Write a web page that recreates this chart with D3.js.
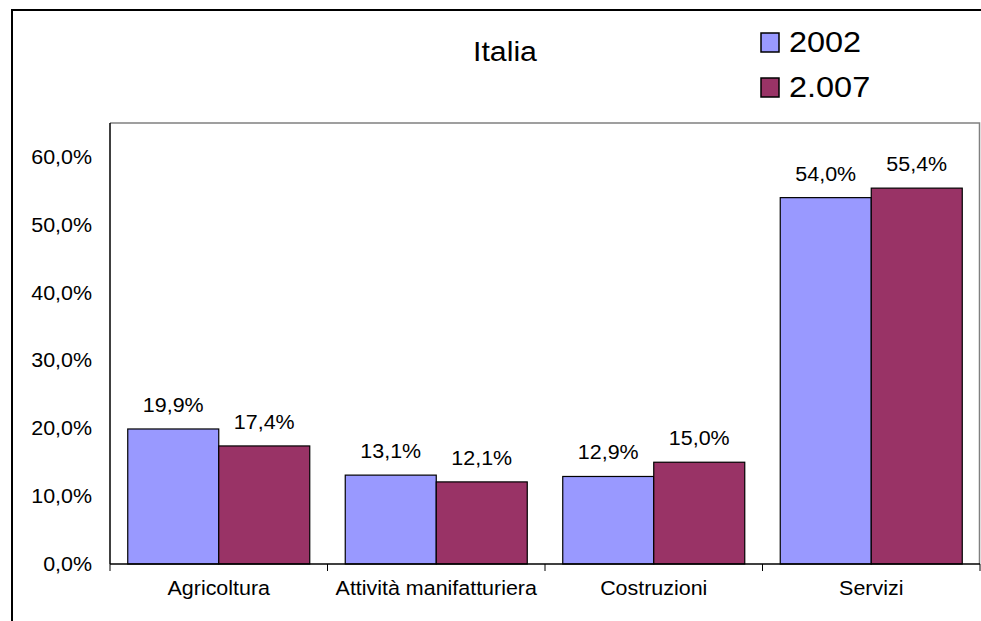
<!DOCTYPE html>
<html><head><meta charset="utf-8">
<script src="https://cdn.jsdelivr.net/npm/d3@7"></script>
<style>body{margin:0;background:#fff;} svg{display:block;} text{font-family:Arial,"Liberation Sans",sans-serif;fill:#000;}</style>
</head><body>
<svg id="c" width="981" height="621"></svg>
<script>
const categories = ["Agricoltura", "Attività manifatturiera", "Costruzioni", "Servizi"];
const seriesNames = ["2002", "2.007"];
const values2002 = [0.199, 0.131, 0.129, 0.540];
const values2007 = [0.174, 0.121, 0.150, 0.554];
const yTicks = [0, 0.1, 0.2, 0.3, 0.4, 0.5, 0.6];
const colors = ["#9999FF", "#993366"];
const title = "Italia";

const svg = d3.select("#c");
const SX = 1.1;
const it = d3.formatLocale({decimal: ",", thousands: ".", grouping: [3], currency: ["", "€"]});
const fmt = it.format(".1%");

const plot = {left: 110, right: 980, top: 123, bottom: 564};
const x0 = d3.scaleBand().domain(categories).range([plot.left, plot.right]).paddingInner(0).paddingOuter(0);
const x1 = d3.scaleBand().domain(seriesNames).range([0, x0.bandwidth()]).paddingInner(0).paddingOuter(0.195);
const y = d3.scaleLinear().domain([0, 0.65]).range([plot.bottom, plot.top]);

function txt(g, x, yy, s, size, anchor) {
  return g.append("text").attr("transform", `translate(${x},${yy}) scale(${SX},1)`)
    .attr("text-anchor", anchor).style("font-size", size + "px").text(s);
}

// outer border
svg.append("rect").attr("x", 12).attr("y", 10).attr("width", 1100).attr("height", 800)
  .attr("fill", "none").attr("stroke", "#000").attr("stroke-width", 2);

// plot area border (gray top/right)
svg.append("path").attr("d", `M${plot.left},${plot.top}H${plot.right - 0.5}V${plot.bottom}`)
  .attr("fill", "none").attr("stroke", "#808080").attr("stroke-width", 1.5);

// bars
const data = categories.map((c, i) => ({cat: c, vals: [values2002[i], values2007[i]]}));
const groups = svg.append("g").selectAll("g").data(data).join("g")
  .attr("transform", d => `translate(${x0(d.cat)},0)`);
groups.selectAll("rect").data(d => d.vals.map((v, j) => ({s: seriesNames[j], v, j})))
  .join("rect")
  .attr("x", d => x1(d.s)).attr("width", x1.bandwidth())
  .attr("y", d => y(d.v)).attr("height", d => y(0) - y(d.v))
  .attr("fill", d => colors[d.j]).attr("stroke", "#000").attr("stroke-width", 1.2);

// value labels
data.forEach(d => {
  d.vals.forEach((v, j) => {
    txt(svg, x0(d.cat) + x1(seriesNames[j]) + x1.bandwidth() / 2, y(v) - 17, fmt(v), 19.5, "middle");
  });
});

// y axis
const yAxis = d3.axisLeft(y).tickValues(yTicks).tickSize(0).tickFormat(fmt);
const ya = svg.append("g").attr("transform", `translate(${plot.left},0)`).call(yAxis);
ya.select(".domain").attr("stroke", "#000").attr("stroke-width", 1.5).attr("d", `M0,${plot.top}V${plot.bottom}`);
ya.selectAll(".tick text").remove();
yTicks.forEach(t => txt(svg, 92, y(t) + 7, fmt(t), 19.5, "end"));

// x axis
const xAxis = d3.axisBottom(x0).tickSize(0).tickFormat("");
const xa = svg.append("g").attr("transform", `translate(0,${plot.bottom})`).call(xAxis);
xa.select(".domain").attr("stroke", "#000").attr("stroke-width", 1.5).attr("d", `M${plot.left},0H${plot.right}`);
xa.selectAll(".tick").remove();
const bounds = categories.map(c => x0(c)).concat([plot.right]);
xa.selectAll("line.bt").data(bounds).join("line").attr("class", "bt")
  .attr("x1", d => d).attr("x2", d => d).attr("y1", 0).attr("y2", 7)
  .attr("stroke", "#000").attr("stroke-width", 1);
categories.forEach(c => txt(svg, x0(c) + x0.bandwidth() / 2, 595, c, 19.5, "middle"));

// title
txt(svg, 505, 61, title, 27.5, "middle");

// legend
seriesNames.forEach((s, j) => {
  const ly = 33 + j * 45;
  svg.append("rect").attr("x", 761).attr("y", ly).attr("width", 18).attr("height", 19)
    .attr("fill", colors[j]).attr("stroke", "#000").attr("stroke-width", 1.5);
  txt(svg, 789, 52 + j * 45, s, 29.5, "start");
});
</script>
</body></html>
